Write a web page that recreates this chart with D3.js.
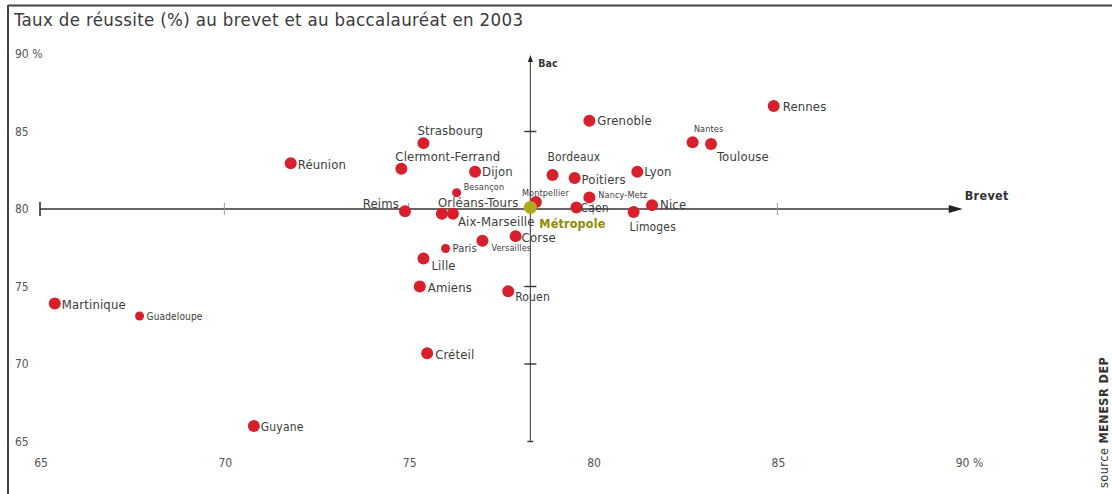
<!DOCTYPE html>
<html><head><meta charset="utf-8">
<script src="https://cdn.jsdelivr.net/npm/d3@7"></script>
<style>
html,body{margin:0;padding:0;background:#fff;}
svg{display:block;}
text{font-family:"Liberation Sans Narrow","DejaVu Sans Condensed","Liberation Sans",sans-serif;}
</style></head>
<body>
<svg id="chart" width="1112" height="494"></svg>
<script>
// ---- data ----
const regions = ["Rennes","Grenoble","Nantes","Toulouse","Strasbourg","Réunion","Clermont-Ferrand","Dijon","Bordeaux","Poitiers","Lyon","Besançon","Montpellier","Nancy-Metz","Reims","Orléans-Tours","Aix-Marseille","Caen","Nice","Limoges","Corse","Versailles","Paris","Lille","Amiens","Rouen","Martinique","Guadeloupe","Créteil","Guyane","Métropole"];
const brevet  = [84.9,79.9,82.7,83.2,75.4,71.8,74.8,76.8,78.9,79.5,81.2,76.3,78.45,79.9,74.9,75.9,76.2,79.55,81.6,81.1,77.9,77.0,76.0,75.4,75.3,77.7,65.4,67.7,75.5,70.8,78.3];
const bac     = [86.65,85.7,84.3,84.2,84.25,82.95,82.6,82.4,82.2,82.0,82.4,81.05,80.45,80.75,79.85,79.7,79.7,80.1,80.25,79.8,78.25,77.95,77.45,76.8,75.0,74.7,73.9,73.1,70.7,66.0,80.1];
const xTicks = [65,70,75,80,85,90];
const xTickLabels = ["65","70","75","80","85","90 %"];
const yTicks = [90,85,80,75,70,65];
const yTickLabels = ["90 %","85","80","75","70","65"];
const metropoleName = "Métropole";
const smallDots = ["Besançon","Paris","Guadeloupe"];

// ---- label layout (pixel offsets from dot) ----
const labelLayout = {
  "Rennes":[9,1,"start",13],"Grenoble":[8,0,"start",13],"Nantes":[16,-14,"middle",9],
  "Toulouse":[6,13,"start",13],"Strasbourg":[-6,-13,"start",13],"Réunion":[7,1,"start",13],
  "Clermont-Ferrand":[-6,-12,"start",13],"Dijon":[7,0,"start",13],"Bordeaux":[-5,-18,"start",12],
  "Poitiers":[7,1,"start",13],"Lyon":[7,0,"start",13],"Besançon":[7,-6,"start",9],
  "Montpellier":[-14,-9,"start",9],"Nancy-Metz":[9,-3,"start",9],"Reims":[-6,-8,"end",13],
  "Orléans-Tours":[-4,-11,"start",13],"Aix-Marseille":[5,8,"start",13],"Caen":[4,0,"start",12],
  "Nice":[8,-1,"start",13],"Limoges":[-4,15,"start",12],"Corse":[6,1,"start",13],
  "Versailles":[9,7,"start",9],"Paris":[7,0,"start",11],"Lille":[8,7,"start",13],
  "Amiens":[8,1,"start",13],"Rouen":[7,6,"start",12],"Martinique":[7,1,"start",13],
  "Guadeloupe":[7,1,"start",10],"Créteil":[8,1,"start",13],"Guyane":[7,1,"start",12],
  "Métropole":[9,16,"start",12.5]
};

const svg = d3.select("#chart");
const x = d3.scaleLinear().domain([65,90]).range([40,961.75]);
const y = d3.scaleLinear().domain([65,90]).range([441.5,54]);
const axisX = 78.3, axisY = 80;

// frame
svg.append("line").attr("x1",8).attr("x2",1112).attr("y1",5.5).attr("y2",5.5).attr("stroke","#444").attr("stroke-width",2);
svg.append("line").attr("x1",8).attr("x2",8).attr("y1",5).attr("y2",494).attr("stroke","#444").attr("stroke-width",2);

// title
svg.append("text").attr("x",14).attr("y",26).attr("font-size",18.5).attr("letter-spacing",0.35)
  .attr("fill","#3a3a3a").text("Taux de réussite (%) au brevet et au baccalauréat en 2003");

// y tick labels (left)
svg.append("g").selectAll("text").data(yTicks).join("text")
  .attr("x",15).attr("y",d=>y(d)+4).attr("font-size",12).attr("fill","#555")
  .text((d,i)=>yTickLabels[i]);
// x tick labels (bottom)
svg.append("g").selectAll("text").data(xTicks).join("text")
  .attr("x",d=>x(d)+1).attr("y",467).attr("font-size",12).attr("fill","#555")
  .attr("text-anchor",(d,i)=>i===xTicks.length-1?"start":"middle")
  .attr("dx",(d,i)=>i===xTicks.length-1?-7:0)
  .text((d,i)=>xTickLabels[i]);

// horizontal axis
const hy = y(axisY);
svg.append("line").attr("x1",x(65)).attr("x2",x(90)-8).attr("y1",hy).attr("y2",hy).attr("stroke","#333").attr("stroke-width",1.6);
svg.append("line").attr("x1",x(65)).attr("x2",x(65)).attr("y1",hy-7).attr("y2",hy+7).attr("stroke","#333").attr("stroke-width",1.6);
svg.append("g").selectAll("line").data([70,75,80,85]).join("line")
  .attr("x1",d=>x(d)).attr("x2",d=>x(d)).attr("y1",hy-6).attr("y2",hy+6)
  .attr("stroke","#999").attr("stroke-width",1);
svg.append("path").attr("d",`M${x(90)+1},${hy} L${x(90)-13},${hy-4} L${x(90)-13},${hy+4} Z`).attr("fill","#222");
svg.append("text").attr("x",x(90)+3).attr("y",hy-9).attr("font-size",12.5).attr("font-weight","bold")
  .attr("fill","#333").attr("letter-spacing",0.3).text("Brevet");

// vertical axis
const vx = x(axisX);
svg.append("line").attr("x1",vx).attr("x2",vx).attr("y1",y(65)).attr("y2",y(89.6)).attr("stroke","#555").attr("stroke-width",1.2);
svg.append("g").selectAll("line").data([65,70,75,85]).join("line")
  .attr("x1",d=>vx-(d===65?3:6)).attr("x2",d=>vx+(d===65?3:6)).attr("y1",d=>y(d)).attr("y2",d=>y(d))
  .attr("stroke","#333").attr("stroke-width",1.4);
svg.append("path").attr("d",`M${vx},${y(90)+1} L${vx-2.5},${y(90)+8} L${vx+2.5},${y(90)+8} Z`).attr("fill","#222");
svg.append("text").attr("x",vx+8).attr("y",y(90)+13).attr("font-size",10.5).attr("font-weight","bold")
  .attr("fill","#333").text("Bac");

// points
const pts = regions.map((r,i)=>({name:r,bx:brevet[i],by:bac[i]}));
const gP = svg.append("g");
gP.selectAll("circle").data(pts).join("circle")
  .attr("cx",d=>x(d.bx)).attr("cy",d=>y(d.by))
  .attr("r",d=>d.name===metropoleName?6.5:(smallDots.includes(d.name)?4.5:6))
  .attr("fill",d=>d.name===metropoleName?"#adab1c":"#d8202c");

// labels
svg.append("g").selectAll("text").data(pts).join("text")
  .attr("x",d=>x(d.bx)+labelLayout[d.name][0])
  .attr("y",d=>y(d.by)+labelLayout[d.name][1])
  .attr("dy","0.35em")
  .attr("text-anchor",d=>labelLayout[d.name][2])
  .attr("font-size",d=>labelLayout[d.name][3])
  .attr("letter-spacing",0.15)
  .attr("fill",d=>d.name===metropoleName?"#8e8c00":"#3c3c3c")
  .attr("font-weight",d=>d.name===metropoleName?"bold":"normal")
  .text(d=>d.name);

// source
svg.append("text").attr("transform","translate(1108,488) rotate(-90)")
  .attr("font-size",12.5).attr("fill","#333").attr("letter-spacing",0.5)
  .html('source <tspan font-weight="bold">MENESR DEP</tspan>');
</script>
</body></html>
